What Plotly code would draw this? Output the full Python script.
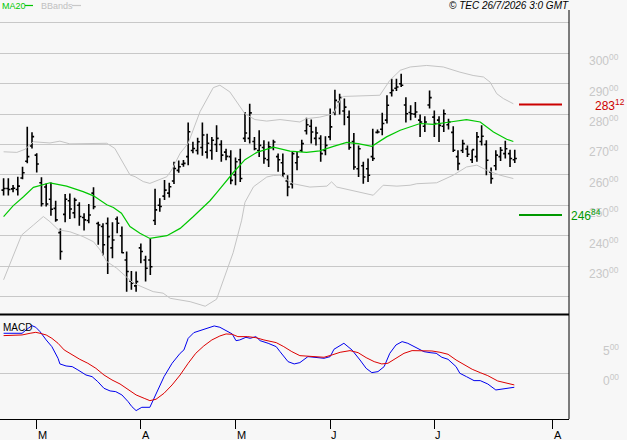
import plotly.graph_objects as go

# ---------------- data ----------------
bar_open = [255.0, 255.5, 255.4, 255.2, 259.0, 264.5, 269.5, 266.5, 257.4, 256.0,
            252.0, 249.0, 241.0, 247.0, 251.5, 247.5, 250.0, 246.0, 245.0, 254.0,
            244.0, 243.0, 244.0, 236.0, 245.5, 240.0, 232.0, 225.0, 223.5, 236.0,
            232.0, 232.0, 245.0, 250.0, 253.0, 254.0, 258.0, 261.5, 263.5, 266.0,
            268.0, 268.0, 269.0, 267.5, 268.0, 270.0, 270.0, 267.5, 266.0, 260.0,
            265.0, 272.0, 272.0, 271.0, 268.0, 269.0, 265.0, 269.0, 266.0, 264.0,
            258.0, 257.0, 264.0, 268.0, 274.5, 276.0, 272.0, 272.0, 268.0, 272.5,
            280.5, 284.0, 281.0, 279.0, 271.0, 262.0, 263.0, 262.0, 266.0, 274.0,
            275.0, 278.0, 287.0, 288.5, 290.0, 283.0, 280.5, 280.0, 278.0, 276.0,
            283.0, 279.0, 278.0, 276.0, 276.5, 274.0, 266.0, 268.0, 268.5, 265.0,
            266.0, 271.0, 270.0, 261.0, 263.0, 266.0, 267.0, 267.0, 265.0]
bar_high = [258.9, 258.9, 256.7, 259.4, 262.7, 275.8, 274.0, 267.1, 259.2, 257.2,
            257.5, 251.5, 242.4, 253.7, 253.9, 252.5, 251.0, 247.4, 250.4, 255.9,
            244.6, 244.1, 246.0, 244.4, 246.3, 243.0, 234.8, 228.4, 228.2, 237.4,
            233.4, 239.1, 255.4, 252.3, 258.3, 257.4, 264.3, 264.7, 264.9, 277.2,
            270.9, 272.2, 277.2, 273.5, 272.5, 276.3, 271.4, 268.6, 268.1, 265.7,
            268.6, 280.7, 283.4, 272.5, 274.7, 271.4, 271.0, 271.6, 267.0, 267.0,
            259.9, 267.5, 267.5, 271.6, 278.8, 278.2, 275.8, 273.0, 272.7, 281.8,
            288.0, 286.7, 285.1, 281.2, 273.8, 269.7, 264.3, 265.4, 275.2, 274.9,
            280.4, 286.2, 291.6, 291.6, 293.3, 285.5, 282.9, 284.0, 279.9, 279.3,
            287.8, 281.2, 279.3, 281.5, 278.5, 276.0, 268.1, 271.6, 269.7, 268.3,
            274.1, 276.3, 271.4, 262.4, 268.1, 269.2, 271.2, 268.3, 268.3]
bar_low = [253.2, 253.2, 254.3, 253.2, 258.6, 263.8, 268.7, 260.8, 249.6, 249.6,
           246.6, 244.6, 232.1, 244.4, 245.5, 245.7, 243.3, 241.7, 244.1, 248.7,
           237.0, 233.5, 227.4, 232.6, 240.8, 234.2, 221.6, 222.2, 221.6, 230.9,
           224.9, 227.1, 243.5, 247.9, 251.7, 252.6, 257.0, 260.7, 262.7, 263.2,
           267.1, 266.7, 266.3, 265.4, 265.0, 267.5, 264.3, 264.8, 256.9, 256.6,
           257.7, 270.8, 270.3, 268.1, 265.9, 263.7, 262.6, 268.1, 261.0, 259.3,
           253.0, 255.5, 261.5, 267.5, 273.3, 270.3, 269.7, 264.3, 266.5, 271.4,
           279.6, 279.9, 276.3, 268.3, 261.7, 259.3, 257.1, 257.7, 264.6, 273.6,
           273.0, 276.9, 285.8, 287.6, 288.9, 277.2, 278.0, 278.8, 272.5, 274.1,
           281.8, 272.5, 270.8, 274.1, 274.9, 267.5, 261.5, 267.2, 265.9, 263.9,
           264.3, 269.7, 259.9, 257.1, 261.5, 264.6, 265.4, 262.6, 263.9]
bar_close = [255.5, 255.2, 255.6, 256.3, 260.7, 266.0, 272.6, 263.6, 250.5, 250.4,
             248.7, 245.2, 234.8, 252.0, 248.8, 251.7, 246.3, 245.2, 246.8, 249.5,
             243.5, 237.0, 239.7, 238.6, 244.1, 234.4, 228.2, 224.4, 224.9, 234.8,
             229.3, 229.8, 248.5, 249.6, 255.0, 256.1, 262.1, 262.7, 263.8, 274.2,
             268.7, 270.9, 273.1, 270.4, 271.4, 272.0, 266.5, 266.1, 258.2, 264.3,
             258.8, 273.8, 280.4, 268.6, 269.7, 265.4, 269.2, 270.8, 265.0, 260.4,
             256.0, 267.0, 265.9, 270.3, 276.5, 274.1, 273.8, 267.0, 269.7, 275.8,
             284.5, 285.4, 282.3, 269.0, 262.6, 268.6, 259.3, 259.9, 265.4, 274.1,
             276.9, 282.9, 287.8, 288.9, 289.5, 280.1, 280.1, 280.7, 277.4, 277.4,
             285.4, 276.9, 276.3, 280.1, 277.4, 268.1, 263.7, 270.3, 266.8, 268.3,
             272.5, 272.7, 264.8, 258.8, 266.5, 268.1, 268.6, 265.4, 265.4]
bar_idx = list(range(len(bar_close)))

ma20_idx = [0, 2.0, 4.2, 6.3, 9.8, 13.3, 16.8, 19.0, 21.8, 23.2, 24.9, 26.7, 28.8,
            30.9, 34.5, 37.3, 40.1, 43.6, 45.0, 48.5, 51.0, 53.5, 57.0, 60.5, 64.0,
            66.8, 69.7, 72.5, 74.9, 77.8, 80.9, 83.8, 88.0, 90.8, 94.3, 97.8, 100.7,
            103.5, 106.3, 107.7]
ma20_val = [246.3, 249.8, 252.8, 255.9, 257.4, 256.3, 254.5, 253.1, 250.2, 249.3,
            247.4, 243.0, 240.8, 239.1, 240.0, 242.4, 246.3, 251.5, 254.1, 260.7,
            265.0, 267.4, 269.1, 267.8, 267.4, 267.9, 269.4, 270.7, 270.3, 269.4,
            272.5, 274.7, 276.9, 276.6, 277.4, 278.2, 277.4, 274.1, 271.7, 271.0]

bb_up_idx = [0, 2.8, 4.5, 6.3, 9.8, 11.9, 14.0, 16.8, 21.8, 23.5, 25.3, 26.7, 27.8,
             29.5, 30.9, 32.7, 34.5, 35.5, 37.3, 39.0, 40.4, 41.5, 44.3, 45.7, 47.8,
             49.6, 51.0, 53.1, 55.6, 58.4, 61.2, 62.6, 64.0, 66.8, 69.7, 71.4, 71.8,
             79.5, 81.6, 83.8, 85.9, 89.4, 92.9, 96.4, 99.2, 101.4, 102.8, 104.2,
             105.6, 107.7]
bb_up_val = [267.6, 267.4, 268.4, 270.9, 270.5, 271.1, 270.2, 270.3, 270.4, 268.7,
             263.8, 260.0, 259.4, 257.8, 257.2, 258.3, 259.4, 261.6, 267.1, 270.4,
             276.4, 280.8, 288.7, 289.5, 287.3, 283.4, 280.1, 278.2, 277.7, 278.2,
             277.6, 277.4, 278.5, 279.0, 280.1, 285.4, 285.8, 286.2, 291.1, 294.4,
             295.5, 296.0, 295.5, 293.8, 292.7, 292.2, 290.5, 286.7, 285.1, 283.4]

bb_lo_idx = [0, 2.0, 3.8, 6.3, 8.4, 9.8, 11.6, 14.0, 16.8, 19.0, 20.4, 21.8, 23.9,
             27.4, 31.6, 33.7, 35.2, 39.4, 42.6, 45.0, 48.5, 50.3, 51.0, 52.8, 55.6,
             57.0, 58.4, 61.2, 62.6, 64.7, 68.3, 69.3, 70.4, 76.0, 78.1, 80.2, 83.1,
             85.9, 87.3, 91.5, 95.0, 97.8, 100.0, 102.1, 104.9, 107.7]
bb_lo_val = [225.5, 233.1, 240.2, 243.5, 246.3, 244.6, 241.9, 241.3, 239.7, 238.0,
             235.3, 231.5, 229.3, 224.4, 221.6, 221.1, 219.4, 218.3, 216.8, 219.1,
             234.4, 245.1, 251.0, 256.1, 259.3, 259.8, 259.9, 257.1, 256.6, 256.0,
             256.3, 257.7, 256.0, 253.9, 253.3, 256.6, 256.3, 256.6, 257.1, 257.4,
             259.9, 262.6, 263.2, 261.5, 259.9, 258.8]

macd_idx = [0, 3.9, 5.2, 6.0, 6.8, 7.7, 9.0, 10.2, 11.5, 11.9, 13.2, 14.5, 15.7,
            17.4, 18.7, 19.9, 21.2, 22.5, 23.7, 25.0, 26.3, 27.1, 28.0, 29.2, 30.9,
            32.2, 33.9, 35.6, 37.3, 38.1, 39.0, 40.2, 41.5, 43.2, 44.5, 45.7, 47.0,
            48.3, 49.1, 49.9, 51.2, 52.1, 53.3, 54.2, 55.9, 57.6, 58.4, 60.1, 61.4,
            62.6, 64.3, 66.0, 67.7, 69.0, 69.8, 71.9, 73.6, 75.3, 76.6, 77.8, 79.1,
            80.4, 81.6, 82.9, 84.2, 85.4, 87.1, 88.8, 90.1, 91.4, 92.6, 93.9, 95.6,
            96.4, 97.8, 99.4, 100.7, 102.3, 104.0, 105.3, 106.5, 107.9]
macd_val = [6.67, 6.67, 7.5, 7.94, 7.67, 6.94, 5.56, 4.44, 2.5, 1.56, 1.22, 1.11,
            0.56, -0.28, -0.56, -1.39, -2.5, -2.94, -3.06, -3.61, -4.72, -5.56,
            -6.22, -5.67, -5.67, -3.33, -0.56, 1.67, 3.33, 3.89, 5.83, 6.78, 7.11,
            7.67, 7.89, 7.67, 7.11, 6.56, 5.44, 5.56, 6.0, 5.83, 6.11, 5.44, 5.0,
            4.44, 3.61, 1.94, 1.56, 1.78, 2.78, 2.61, 2.5, 2.78, 4.0, 5.0, 3.89,
            2.22, 0.83, 0.11, 0.28, 1.11, 3.33, 4.72, 5.28, 5.0, 4.33, 3.61, 3.44,
            3.33, 2.67, 2.33, 1.11, 0.0, -0.56, -1.22, -1.22, -1.78, -2.78, -2.67,
            -2.5, -2.33]

signal_idx = [0, 3.9, 5.6, 6.8, 7.7, 9.0, 10.2, 11.5, 12.8, 14.5, 16.1, 17.8, 19.5,
              21.2, 22.9, 24.6, 26.3, 28.0, 29.7, 30.9, 32.2, 33.9, 35.6, 37.3, 39.0,
              40.6, 42.3, 44.0, 45.7, 47.0, 48.3, 49.5, 51.6, 53.3, 55.0, 57.6, 59.2,
              60.9, 62.6, 64.3, 66.0, 67.7, 69.4, 71.1, 73.2, 74.9, 76.6, 78.3, 79.9,
              81.2, 82.9, 84.6, 86.3, 88.8, 90.5, 92.2, 93.9, 95.6, 97.3, 99.0, 100.7,
              102.3, 104.4, 106.1, 107.9]
signal_val = [6.28, 6.39, 6.67, 6.83, 6.67, 6.39, 5.83, 5.0, 3.89, 3.06, 2.33, 1.67,
              0.83, -0.28, -1.11, -1.78, -2.67, -3.61, -4.17, -4.56, -4.33, -3.33,
              -1.94, -0.28, 1.67, 3.33, 4.56, 5.56, 6.22, 6.56, 6.5, 6.11, 6.11, 5.94,
              5.56, 5.11, 4.44, 3.61, 2.94, 2.89, 2.78, 2.67, 3.06, 3.5, 3.78, 3.44,
              2.61, 1.94, 1.56, 1.67, 2.5, 3.33, 3.78, 3.78, 3.72, 3.5, 3.17, 2.22,
              1.39, 0.67, 0.11, -0.39, -1.28, -1.56, -1.94]

month_idx = [7, 29, 49, 69, 91, 116]
month_lbl = ["M", "A", "M", "J", "J", "A"]
price_grid = [220, 230, 240, 250, 260, 270, 280, 290, 300, 310]
price_lbls = [230, 240, 250, 260, 270, 280, 290, 300]
macd_lbls = [0, 5]
resistance = 283.12
support = 246.84

# ---------------- layout geometry ----------------
W, H = 627, 440
ML, MR, MT, MB = 0, 58, 10, 21
PW, PH = W - ML - MR, H - MT - MB


def px(p):   # pixel x -> paper x
    return (p - ML) / PW


def py(p):   # pixel y -> paper y
    return (H - MB - p) / PH


BG = "#f7f7f7"
GRID = "#c8c8c8"
FONT = "Liberation Sans, Arial, sans-serif"

fig = go.Figure()

fig.add_trace(go.Scatter(x=bb_up_idx, y=bb_up_val, mode="lines",
                         line=dict(color="#c4c4c4", width=1), xaxis="x", yaxis="y"))
fig.add_trace(go.Scatter(x=bb_lo_idx, y=bb_lo_val, mode="lines",
                         line=dict(color="#c4c4c4", width=1), xaxis="x", yaxis="y"))
fig.add_trace(go.Scatter(x=ma20_idx, y=ma20_val, mode="lines",
                         line=dict(color="#00c800", width=1.2), xaxis="x", yaxis="y"))
fig.add_trace(go.Ohlc(x=bar_idx, open=bar_open, high=bar_high, low=bar_low, close=bar_close,
                      increasing=dict(line=dict(color="black", width=1.6)),
                      decreasing=dict(line=dict(color="black", width=1.6)),
                      tickwidth=0.45, xaxis="x", yaxis="y"))
fig.add_trace(go.Scatter(x=macd_idx, y=macd_val, mode="lines",
                         line=dict(color="#0000ee", width=1), xaxis="x2", yaxis="y2"))
fig.add_trace(go.Scatter(x=signal_idx, y=signal_val, mode="lines",
                         line=dict(color="#dd0000", width=1), xaxis="x2", yaxis="y2"))

xr = [-0.76, 119.46]
fig.update_layout(
    width=W, height=H, showlegend=False,
    margin=dict(l=ML, r=MR, t=MT, b=MB, pad=0),
    paper_bgcolor=BG, plot_bgcolor=BG,
    font=dict(family=FONT),
    xaxis=dict(domain=[0, 1], range=xr, showgrid=False, zeroline=False,
               showticklabels=False, ticks="", anchor="y",
               rangeslider=dict(visible=False)),
    yaxis=dict(domain=[py(314), 1], range=[214.24, 314.24], tickvals=price_grid,
               showgrid=True, gridcolor=GRID, gridwidth=1, zeroline=False,
               showticklabels=False, ticks=""),
    xaxis2=dict(domain=[0, 1], range=xr, showgrid=False, zeroline=False,
                anchor="y2", tickvals=month_idx, ticks="outside", ticklen=9,
                tickcolor="black", tickwidth=1, showticklabels=False,
                showline=True, linecolor="black", linewidth=1),
    yaxis2=dict(domain=[0, py(316)], range=[-7.62, 9.55], tickvals=[0],
                showgrid=True, gridcolor=GRID, gridwidth=1, zeroline=False,
                showticklabels=False, ticks=""),
)

shapes = []
# right axis line
shapes.append(dict(type="line", xref="paper", yref="paper", x0=px(569), x1=px(569),
                   y0=py(419), y1=py(10), line=dict(color="black", width=1)))
# thick separator
shapes.append(dict(type="line", xref="paper", yref="paper", x0=0, x1=px(569),
                   y0=py(314.5), y1=py(314.5), line=dict(color="black", width=2.2)))
# resistance / support marks
shapes.append(dict(type="line", xref="paper", yref="y", x0=px(519), x1=px(562),
                   y0=resistance, y1=resistance, line=dict(color="#cc0000", width=2)))
shapes.append(dict(type="line", xref="paper", yref="y", x0=px(519), x1=px(562),
                   y0=support, y1=support, line=dict(color="#009900", width=2)))
# legend dashes
shapes.append(dict(type="line", xref="paper", yref="paper", x0=px(25), x1=px(33),
                   y0=py(5.5), y1=py(5.5), line=dict(color="#00c800", width=1.2)))
shapes.append(dict(type="line", xref="paper", yref="paper", x0=px(72), x1=px(81),
                   y0=py(5.5), y1=py(5.5), line=dict(color="#c8c8c8", width=1.2)))
fig.update_layout(shapes=shapes)

ann = []
for v in price_lbls:
    ann.append(dict(xref="paper", yref="y", x=px(620), y=v, xanchor="right",
                    yanchor="top", showarrow=False, text=f"{v}<sup>00</sup>",
                    font=dict(size=12, color=GRID, family=FONT), borderpad=0, yshift=2))
for v in macd_lbls:
    ann.append(dict(xref="paper", yref="y2", x=px(620), y=v, xanchor="right",
                    yanchor="top", showarrow=False, text=f"{v}<sup>00</sup>",
                    font=dict(size=12, color=GRID, family=FONT), borderpad=0, yshift=2))
ann.append(dict(xref="paper", yref="y", x=px(594), y=resistance, xanchor="left",
                yanchor="middle", showarrow=False,
                text=f"{int(resistance)}<sup>{round(resistance % 1 * 100):02d}</sup>",
                font=dict(size=12, color="#cc0000", family=FONT), borderpad=0))
ann.append(dict(xref="paper", yref="y", x=px(570), y=support, xanchor="left",
                yanchor="middle", showarrow=False,
                text=f"{int(support)}<sup>{round(support % 1 * 100):02d}</sup>",
                font=dict(size=12, color="#009900", family=FONT), borderpad=0))
for i, t in zip(month_idx, month_lbl):
    ann.append(dict(xref="x2", yref="paper", x=i, y=py(419), xanchor="left",
                    yanchor="top", showarrow=False, text=t, xshift=0, yshift=-9,
                    font=dict(size=11, color="black", family=FONT), borderpad=0))
ann.append(dict(xref="paper", yref="paper", x=px(1), y=py(5.5), xanchor="left",
                yanchor="middle", showarrow=False, text="MA20", borderpad=0,
                font=dict(size=9, color="#00c800", family=FONT)))
ann.append(dict(xref="paper", yref="paper", x=px(40), y=py(5.5), xanchor="left",
                yanchor="middle", showarrow=False, text="BBands", borderpad=0,
                font=dict(size=9, color="#c0c0c0", family=FONT)))
ann.append(dict(xref="paper", yref="paper", x=px(448), y=py(5.5), xanchor="left",
                yanchor="middle", showarrow=False, text="<i>© TEC 26/7/2026 3:0 GMT</i>",
                borderpad=0, font=dict(size=10, color="black", family=FONT)))
ann.append(dict(xref="paper", yref="paper", x=px(2), y=py(327), xanchor="left",
                yanchor="middle", showarrow=False, text="MACD", borderpad=0,
                font=dict(size=10, color="black", family=FONT)))
fig.update_layout(annotations=ann)

fig.write_html("out.html")
